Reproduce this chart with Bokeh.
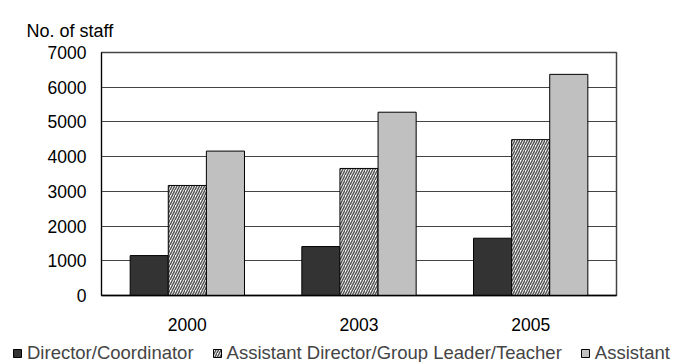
from bokeh.plotting import figure
from bokeh.models import FactorRange, Range1d, Legend, LegendItem, FixedTicker, ColumnDataSource
from bokeh.layouts import column
from bokeh.transform import dodge
from bokeh.embed import file_html
from bokeh.resources import INLINE

years = ["2000", "2003", "2005"]
director = [1150, 1410, 1650]
asst_director = [3170, 3660, 4490]
assistant = [4160, 5280, 6370]
series_names = ["Director/Coordinator", "Assistant Director/Group Leader/Teacher", "Assistant"]
y_ticks = [0, 1000, 2000, 3000, 4000, 5000, 6000, 7000]

FONT = "Liberation Sans"
BW = 0.222

src = ColumnDataSource(dict(year=years, d=director, a=asst_director, s=assistant))


def add_bars(fig):
    r1 = fig.vbar(x=dodge("year", -BW, range=fig.x_range), top="d", width=BW, source=src,
                  fill_color="#333333", line_color="black", line_width=1)
    r2 = fig.vbar(x=dodge("year", 0, range=fig.x_range), top="a", width=BW, source=src,
                  fill_color="white", line_color="black", line_width=1,
                  hatch_pattern="/", hatch_color="#555555", hatch_scale=5, hatch_weight=1.5)
    r3 = fig.vbar(x=dodge("year", BW, range=fig.x_range), top="s", width=BW, source=src,
                  fill_color="#c0c0c0", line_color="black", line_width=1)
    return r1, r2, r3


p = figure(width=678, height=335, x_range=FactorRange(*years, range_padding=0),
           y_range=Range1d(0, 7000), output_backend="svg", toolbar_location=None,
           min_border_left=101, min_border_right=62, min_border_top=52, min_border_bottom=40)

p.title.text = "No. of staff"
p.title.text_font = FONT
p.title.text_font_size = "18px"
p.title.text_font_style = "normal"
p.title.text_color = "black"
p.title.align = "left"
p.title.vertical_align = "top"
p.title.offset = -75
p.title.standoff = 20

add_bars(p)

p.yaxis.ticker = FixedTicker(ticks=y_ticks)
p.yaxis.major_tick_in = 0
p.yaxis.major_tick_out = 0
p.yaxis.minor_tick_in = 0
p.yaxis.minor_tick_out = 0
p.yaxis.axis_line_color = "black"
p.yaxis.major_label_text_font = FONT
p.yaxis.major_label_text_font_size = "17.5px"
p.yaxis.major_label_text_color = "black"
p.yaxis.major_label_standoff = 15

p.xaxis.major_tick_in = 0
p.xaxis.major_tick_out = 0
p.xaxis.axis_line_color = "black"
p.xaxis.axis_line_width = 1.5
p.xaxis.major_label_text_font = FONT
p.xaxis.major_label_text_font_size = "17.5px"
p.xaxis.major_label_text_color = "black"
p.xaxis.major_label_standoff = 22

p.xgrid.grid_line_color = None
p.ygrid.grid_line_color = "#444444"
p.ygrid.grid_line_width = 1
p.outline_line_color = "#444444"
p.outline_line_width = 1.5

# legend strip: same bar styles, hidden renderers used only for the legend
lg = figure(width=678, height=27, x_range=FactorRange(*years), y_range=Range1d(-20, -10),
            output_backend="svg", toolbar_location=None,
            x_axis_location=None, y_axis_location=None,
            min_border_left=0, min_border_right=0, min_border_top=0, min_border_bottom=0)
lg.grid.visible = False
lg.outline_line_color = None
try:
    lg.frame_align = False
    p.frame_align = False
except AttributeError:
    pass
l1, l2, l3 = add_bars(lg)
for r in (l1, l2, l3):
    r.visible = False

legend = Legend(items=[LegendItem(label=series_names[0], renderers=[l1]),
                       LegendItem(label=series_names[1], renderers=[l2]),
                       LegendItem(label=series_names[2], renderers=[l3])],
                orientation="horizontal", location=(12, -2),
                glyph_width=10, glyph_height=10, label_text_font=FONT,
                label_text_font_size="18.5px", label_standoff=5, spacing=18,
                padding=0, margin=0, border_line_color=None,
                background_fill_alpha=0, label_height=16,
                inactive_fill_alpha=0)
lg.add_layout(legend, "center")

layout = column(p, lg, spacing=0)
open("out.html", "w").write(file_html(layout, INLINE))
